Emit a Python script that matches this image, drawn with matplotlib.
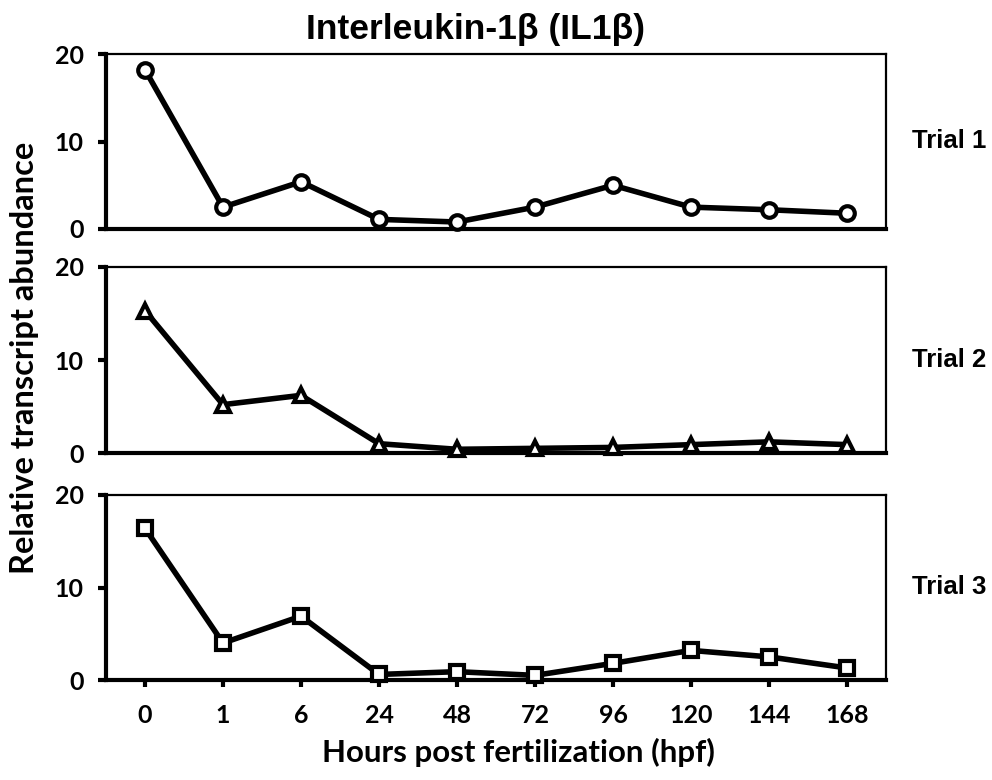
import matplotlib.pyplot as plt
import numpy as np

# Data
hours = ['0', '1', '6', '24', '48', '72', '96', '120', '144', '168']
trial1 = [18.2, 2.5, 5.4, 1.1, 0.8, 2.5, 5.0, 2.5, 2.2, 1.8]
trial2 = [15.3, 5.2, 6.2, 1.0, 0.4, 0.5, 0.6, 0.9, 1.2, 0.9]
trial3 = [16.4, 4.0, 6.9, 0.6, 0.9, 0.5, 1.8, 3.2, 2.5, 1.3]
trial_names = ['Trial 1', 'Trial 2', 'Trial 3']
markers = ['o', '^', 's']

W, H = 992, 780
fig = plt.figure(figsize=(W / 100, H / 100), dpi=100)

# panel boxes in pixels: (top, bottom)
boxes = [(54, 229), (267, 453), (495, 680)]
left_px, right_px = 106, 886

calib = 'Lato'
arial = 'Liberation Sans'

x = np.arange(len(hours))
for i, (series, (top, bot)) in enumerate(zip([trial1, trial2, trial3], boxes)):
    ax = fig.add_axes([left_px / W, 1 - bot / H, (right_px - left_px) / W, (bot - top) / H])
    ax.plot(x, series, color='black', linewidth=4, marker=markers[i],
            markersize=10.5 if markers[i] != 's' else 10, markerfacecolor='white',
            markeredgecolor='black', markeredgewidth=3, clip_on=False, zorder=5)
    ax.set_xlim(-0.5, 9.5)
    ax.set_ylim(0, 20)
    ax.set_yticks([0, 10, 20])
    ax.spines['left'].set_linewidth(3)
    ax.spines['bottom'].set_linewidth(3)
    ax.spines['top'].set_linewidth(1.6)
    ax.spines['right'].set_linewidth(1.6)
    ax.tick_params(axis='y', direction='out', length=6, width=3, pad=10)
    for lab in ax.get_yticklabels():
        lab.set_fontfamily(calib)
        lab.set_fontweight('bold')
        lab.set_fontsize(18)
    if i < 2:
        ax.set_xticks([])
    else:
        ax.set_xticks(x)
        ax.set_xticklabels(hours, fontfamily=calib, fontweight='bold', fontsize=18)
        ax.tick_params(axis='x', direction='out', length=5, width=3, pad=12)
    ax.text(1.033, 0.5, trial_names[i], transform=ax.transAxes, ha='left', va='center',
            fontfamily=arial, fontweight='bold', fontsize=18.5)

fig.text(475 / W, 1 - 30 / H, 'Interleukin-1β (IL1β)', ha='center', va='center',
         fontfamily=arial, fontweight='bold', fontsize=25.5)
fig.text(25 / W, 1 - 358 / H, 'Relative transcript abundance', ha='center', va='center',
         rotation=90, fontfamily=calib, fontweight='bold', fontsize=23.5)
fig.text(518 / W, 1 - 752 / H, 'Hours post fertilization (hpf)', ha='center', va='center',
         fontfamily=calib, fontweight='bold', fontsize=22.5)

plt.savefig('out.png', dpi=100)
